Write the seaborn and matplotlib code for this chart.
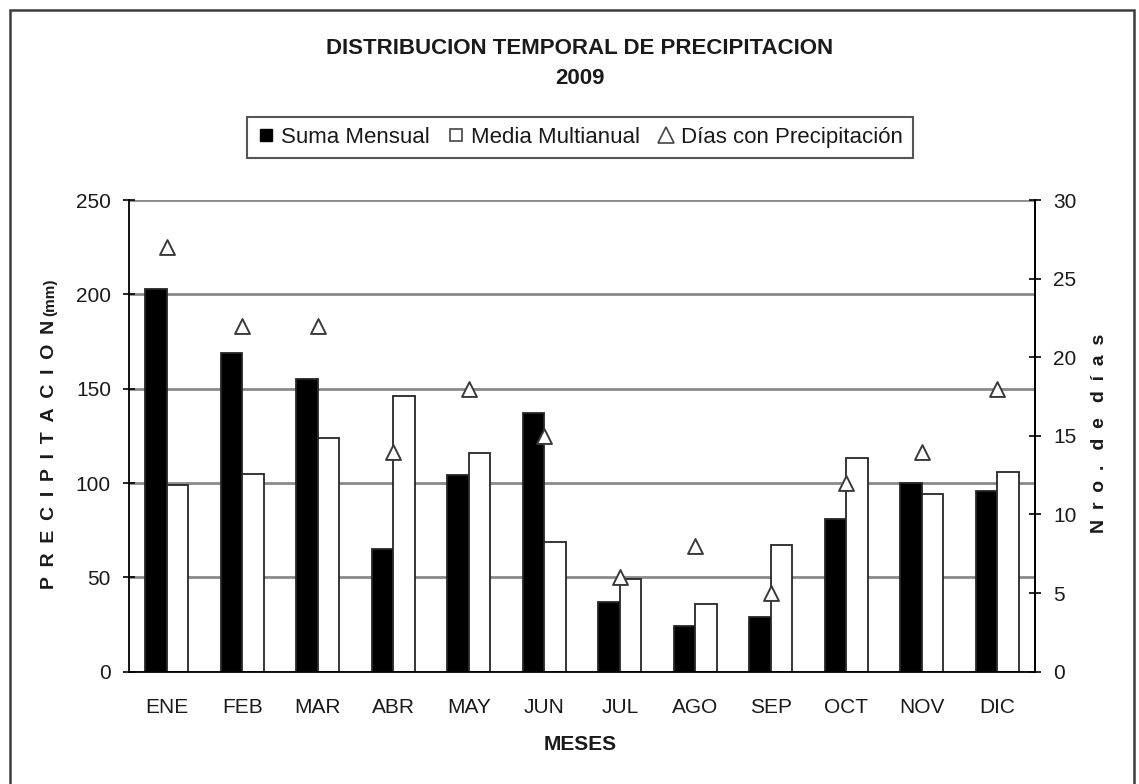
import numpy as np
import pandas as pd
import matplotlib
matplotlib.use("Agg")
import matplotlib.pyplot as plt
import seaborn as sns
from matplotlib.lines import Line2D
from matplotlib.patches import Rectangle

# Monthly precipitation data, 2009
meses = ["ENE", "FEB", "MAR", "ABR", "MAY", "JUN",
         "JUL", "AGO", "SEP", "OCT", "NOV", "DIC"]
suma_mensual = [203, 169, 155, 65, 104, 137, 37, 24, 29, 81, 100, 96]
media_multianual = [99, 105, 124, 146, 116, 69, 49, 36, 67, 113, 94, 106]
dias_precipitacion = [27, 22, 22, 14, 18, 15, 6, 8, 5, 12, 14, 18]

series = ["Suma Mensual", "Media Multianual"]
df = pd.DataFrame({
    "mes": meses * 2,
    "valor": suma_mensual + media_multianual,
    "serie": [series[0]] * len(meses) + [series[1]] * len(meses),
})

sns.set_style("white")
plt.rcParams["font.family"] = ["Liberation Sans", "DejaVu Sans"]

W, H = 1139, 784
fig = plt.figure(figsize=(W / 100, H / 100), dpi=100)
ax = fig.add_axes([129 / W, 1 - 671.7 / H, (1035 - 129) / W, (671.7 - 200) / H])

sns.barplot(data=df, x="mes", y="valor", hue="serie", order=meses,
            hue_order=series,
            palette={series[0]: "black", series[1]: "white"},
            saturation=1, width=0.57, edgecolor="#262626", linewidth=1.3,
            legend=False, ax=ax, zorder=2)

ax.set_xlim(-0.5, len(meses) - 0.5)
ax.set_ylim(0, 250)
ax.set_yticks(range(0, 251, 50))
ax.yaxis.grid(True, color="#8a8a8a", linewidth=2)
ax.xaxis.grid(False)
ax.set_axisbelow(True)
ax.set_xlabel("")
ax.set_ylabel("")

for side in ["left", "bottom", "right"]:
    ax.spines[side].set_color("black")
    ax.spines[side].set_linewidth(1.3)
ax.spines["top"].set_visible(False)

# month labels centred, tick marks on the category boundaries
ax.set_xticks(range(len(meses)))
ax.set_xticklabels(meses)
ax.set_xticks(np.arange(-0.5, len(meses), 1), minor=True)
ax.tick_params(axis="x", which="major", length=0, pad=19, labelsize=15,
               colors="#1a1a1a")
ax.tick_params(axis="x", which="minor", length=11, direction="inout",
               width=1.2, color="black")
ax.tick_params(axis="y", which="major", left=True, length=8,
               direction="inout", width=1.2, color="black", pad=9,
               labelsize=15, labelcolor="#1a1a1a")

# secondary axis: days with precipitation
ax2 = ax.twinx()
sns.scatterplot(x=np.arange(len(meses)), y=dias_precipitacion, ax=ax2,
                marker="^", s=115, facecolor="white", edgecolor="#3a3a3a",
                linewidth=1.4, zorder=5)
ax2.set_ylim(0, 30)
ax2.set_yticks(range(0, 31, 5))
ax2.set_xlim(-0.5, len(meses) - 0.5)
ax2.grid(False)
ax2.set_ylabel("")
for side in ["left", "top", "bottom"]:
    ax2.spines[side].set_visible(False)
ax2.spines["right"].set_color("black")
ax2.spines["right"].set_linewidth(1.3)
ax2.tick_params(axis="y", which="major", right=True, length=8,
                direction="inout", width=1.2, color="black", pad=9,
                labelsize=15, labelcolor="#1a1a1a")

# titles and axis labels
cx = 580 / W
fig.text(cx, 1 - 48 / H, "DISTRIBUCION TEMPORAL DE PRECIPITACION",
         ha="center", va="center", fontsize=16, fontweight="bold",
         color="#1a1a1a")
fig.text(cx, 1 - 78 / H, "2009", ha="center", va="center", fontsize=16,
         fontweight="bold", color="#1a1a1a")
fig.text(cx, 1 - 745 / H, "MESES", ha="center", va="center", fontsize=15,
         fontweight="bold", color="#1a1a1a")

sp = "\u2002"
fig.text(50 / W, 1 - 454 / H, sp.join("PRECIPITACION"), rotation=90,
         ha="center", va="center", fontsize=14, fontweight="bold",
         color="#1a1a1a")
fig.text(50 / W, 1 - 297 / H, "(mm)", rotation=90, ha="center",
         va="center", fontsize=11, fontweight="bold", color="#1a1a1a")
fig.text(1100 / W, 1 - 433.5 / H,
         sp.join("Nro.") + sp + " " + sp.join("de") + sp + " " + sp.join("días"),
         rotation=90, ha="center", va="center", fontsize=14,
         fontweight="bold", color="#1a1a1a")

# legend
handles = [
    Line2D([], [], marker="s", linestyle="none", markersize=8,
           markerfacecolor="black", markeredgecolor="black"),
    Line2D([], [], marker="s", linestyle="none", markersize=8,
           markerfacecolor="white", markeredgecolor="#444444",
           markeredgewidth=1.2),
    Line2D([], [], marker="^", linestyle="none", markersize=11,
           markerfacecolor="white", markeredgecolor="#444444",
           markeredgewidth=1.2),
]
labels = ["Suma Mensual", "Media Multianual", "Días con Precipitación"]
leg = fig.legend(handles, labels, loc="center",
                 bbox_to_anchor=(cx, 1 - 137.5 / H), ncol=3, frameon=True,
                 fancybox=False, edgecolor="#555555", framealpha=1,
                 fontsize=16, handlelength=0.8, handletextpad=0.25,
                 columnspacing=0.8, borderpad=0.45, borderaxespad=0)
leg.get_frame().set_linewidth(1.5)
for t in leg.get_texts():
    t.set_color("#1a1a1a")

# outer frame around the chart
fig.add_artist(Rectangle((10 / W, -0.05), (1134 - 10) / W, 1 - 10 / H + 0.05,
                         transform=fig.transFigure, fill=False,
                         edgecolor="#3c3c3c", linewidth=1.8, clip_on=False))

fig.savefig("out.png", dpi=100)
